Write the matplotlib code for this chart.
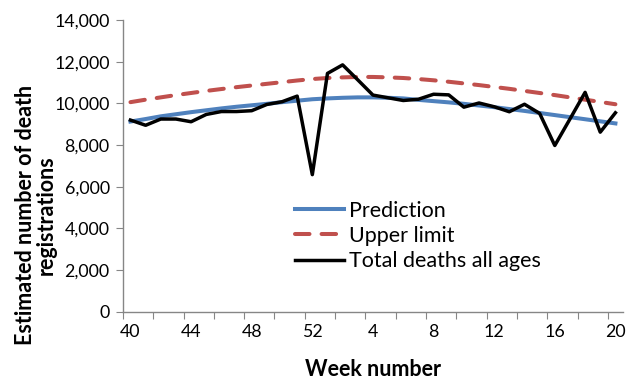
import matplotlib.pyplot as plt

plt.rcParams['font.family'] = ['Lato', 'DejaVu Sans']

# weeks 40-52 then 1-20 of the following year
weeks = list(range(40, 53)) + list(range(1, 21))
tick_weeks = [40, 44, 48, 52, 4, 8, 12, 16, 20]

prediction = [9130, 9250, 9380, 9480, 9580, 9670, 9760, 9840, 9910, 9980,
              10060, 10130, 10200, 10240, 10270, 10290, 10290, 10270, 10240,
              10170, 10110, 10050, 9980, 9900, 9820, 9730, 9640, 9540, 9440,
              9340, 9240, 9140, 9040]
upper_limit = [10060, 10180, 10290, 10400, 10500, 10600, 10690, 10780, 10860,
               10940, 11020, 11100, 11170, 11220, 11250, 11270, 11270, 11250,
               11220, 11170, 11110, 11040, 10960, 10880, 10790, 10700, 10600,
               10500, 10400, 10290, 10180, 10070, 9960]
total_deaths = [9200, 8950, 9250, 9250, 9120, 9470, 9610, 9610, 9650, 9950,
                10080, 10350, 6580, 11440, 11850, 11130, 10400, 10270, 10140,
                10200, 10440, 10410, 9820, 10020, 9840, 9600, 9960, 9520, 7980,
                9250, 10530, 8620, 9550]

x = list(range(len(weeks)))

fig = plt.figure(figsize=(6.27, 3.79), dpi=100)
ax = fig.add_axes([0.196, 0.1775, 0.7976, 0.7695])

ax.plot(x, prediction, color='#4F81BD', lw=2.9, label='Prediction')
ax.plot(x, upper_limit, color='#C0504D', lw=2.9, dashes=(3.6, 3.0),
        dash_capstyle='round', label='Upper limit')
ax.plot(x, total_deaths, color='black', lw=2.5, label='Total deaths all ages')

ax.set_xlim(-0.5, len(weeks) - 0.5)
ax.set_ylim(0, 14000)
ax.set_yticks(range(0, 14001, 2000))
ax.set_yticklabels([f'{v:,}' for v in range(0, 14001, 2000)])

# tick marks sit between categories, labels under every fourth week
ax.set_xticks([i - 0.5 for i in range(0, len(weeks), 2)])
ax.set_xticklabels([])
ax.set_xticks([weeks.index(w) if w >= 40 else 13 + w - 1 for w in tick_weeks],
              [str(w) for w in tick_weeks], minor=True)
ax.tick_params(axis='x', which='major', length=5, color='#868686', direction='out')
ax.tick_params(axis='x', which='minor', length=0, pad=9, labelsize=12.8)
ax.tick_params(axis='y', length=5, color='#868686', direction='out', labelsize=12.8, pad=4.5)

for side in ('top', 'right'):
    ax.spines[side].set_visible(False)
for side in ('left', 'bottom'):
    ax.spines[side].set_color('#868686')
    ax.spines[side].set_linewidth(1.0)

ax.set_xlabel('Week number', fontsize=15.5, fontweight='bold', labelpad=13.5)
ax.set_ylabel('Estimated number of death\nregistrations', fontsize=15.5,
              fontweight='bold', linespacing=0.95)
ax.yaxis.set_label_coords(-0.133, 0.331)

ax.legend(loc='upper left', bbox_to_anchor=(0.326, 0.41), frameon=False,
          fontsize=15.5, handlelength=2.3, handletextpad=0.22,
          labelspacing=0.24, borderaxespad=0)

fig.savefig('out.png', dpi=100)
